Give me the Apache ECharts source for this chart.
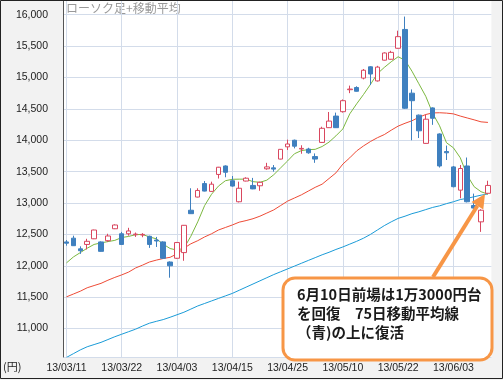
<!DOCTYPE html>
<html><head><meta charset="utf-8">
<script src="https://cdn.jsdelivr.net/npm/echarts@6/dist/echarts.min.js"></script>
<style>html,body{margin:0;padding:0;background:#f2f2f2}#c{width:503px;height:380px}</style>
</head><body><div id="c"></div>
<script>
const dates = ['13/03/11','13/03/12','13/03/13','13/03/14','13/03/15','13/03/18','13/03/19','13/03/21','13/03/22','13/03/25','13/03/26','13/03/27','13/03/28','13/03/29',
'13/04/01','13/04/02','13/04/03','13/04/04','13/04/05','13/04/08','13/04/09','13/04/10','13/04/11','13/04/12','13/04/15','13/04/16','13/04/17','13/04/18','13/04/19','13/04/22','13/04/23','13/04/24','13/04/25','13/04/26','13/04/30',
'13/05/01','13/05/02','13/05/07','13/05/08','13/05/09','13/05/10','13/05/13','13/05/14','13/05/15','13/05/16','13/05/17','13/05/20','13/05/21','13/05/22','13/05/23','13/05/24','13/05/27','13/05/28','13/05/29','13/05/30','13/05/31',
'13/06/03','13/06/04','13/06/05','13/06/06','13/06/07','13/06/10'];
const opens  = [12380,12440,12270,12340,12430,12380,12400,12590,12510,12510,12495,12490,12470,12410,12380,12060,12120,12210,12885,13095,13310,13185,13455,13590,13355,13020,13350,13280,13275,13545,13560,13700,13895,14000,13860,13860,13740,13965,14200,14385,14455,14805,14840,14990,15170,14945,15275,15290,15465,15765,14750,14400,13950,14515,14100,13820,13575,13205,13590,12960,12700,13155];
const closes = [12360,12320,12240,12390,12570,12230,12475,12650,12340,12555,12505,12500,12340,12395,12120,12000,12370,12645,12830,13200,13190,13300,13570,13490,13270,13235,13395,13225,13330,13575,13540,13855,13940,13905,13870,13800,13700,14190,14305,14200,14630,14815,14780,15115,15055,15165,15390,15400,15650,14510,14630,14150,14335,14350,13590,13800,13260,13550,13020,12920,12885,13280];
const lows   = [12320,12315,12190,12260,12425,12225,12380,12585,12335,12480,12460,12455,12285,12300,12110,11810,12110,12080,12825,13090,13185,13180,13390,13410,13260,13010,13345,13220,13195,13530,13500,13695,13845,13870,13785,13785,13640,13960,14195,14195,14440,14750,14775,14970,14880,14935,15270,15285,15460,14500,14000,14035,13945,14245,13565,13685,13250,13075,13010,12900,12540,13150];
const highs  = [12410,12480,12310,12430,12575,12390,12510,12660,12540,12605,12530,12520,12480,12460,12390,12070,12380,12650,13235,13235,13350,13340,13575,13600,13430,13340,13410,13400,13340,13640,13605,13860,14010,14010,13920,13880,13790,14215,14450,14440,14650,14870,14860,15135,15180,15185,15400,15425,15745,15970,14810,14410,14410,14525,14110,13915,13590,13605,13725,13150,12900,13355];
const ma5  = [12046,12140,12210,12280,12340,12365,12385,12405,12450,12468,12495,12500,12460,12430,12345,12275,12250,12280,12470,12700,12960,13140,13270,13355,13378,13380,13380,13340,13330,13364,13450,13560,13670,13785,13835,13850,13855,13900,13970,14070,14180,14420,14580,14730,14890,15060,15160,15250,15330,15275,15100,14900,14700,14430,14230,13960,13880,13720,13440,13260,13180,13140];
const ma25 = [11505,11550,11595,11650,11685,11720,11770,11815,11855,11900,11965,12010,12060,12090,12116,12135,12190,12280,12350,12400,12460,12510,12570,12610,12650,12695,12720,12750,12790,12840,12890,12960,13030,13080,13130,13190,13250,13300,13390,13480,13620,13720,13830,13910,13980,14040,14090,14160,14225,14270,14310,14365,14410,14435,14438,14432,14420,14385,14355,14325,14293,14284];
const ma75 = [10540,10600,10660,10710,10745,10780,10825,10870,10910,10950,10990,11040,11085,11115,11143,11180,11220,11260,11310,11360,11400,11440,11480,11520,11560,11610,11660,11710,11760,11810,11860,11905,11950,11995,12040,12085,12130,12175,12215,12260,12300,12345,12390,12440,12500,12570,12640,12700,12755,12790,12830,12860,12895,12930,12955,12990,13020,13055,13075,13100,13125,13145];
const yMin = 10547, yMax = 16234;

const candles = opens.map((o, i) => [o, closes[i], lows[i], highs[i]]);
const chart = echarts.init(document.getElementById('c'), null, {renderer: 'canvas'});
chart.setOption({
  animation: false,
  backgroundColor: '#f2f2f2',
  grid: {left: 63, top: 0, width: 428.4, height: 357, show: true, backgroundColor: '#ffffff', borderWidth: 0},
  xAxis: {
    type: 'category', data: dates, boundaryGap: true,
    axisLine: {show: false}, axisTick: {show: false},
    axisLabel: {interval: 7, color: '#222', fontSize: 10.5, fontFamily: 'Liberation Sans', margin: 6},
    splitLine: {show: true, interval: 7, alignWithLabel: true, lineStyle: {color: '#d3dcea', width: 1}}
  },
  yAxis: {
    type: 'value', min: yMin, max: yMax, minInterval: 500, maxInterval: 500,
    axisLine: {show: true, lineStyle: {color: '#555', width: 1}}, axisTick: {show: false},
    axisLabel: {color: '#222', fontSize: 10.5, fontFamily: 'Liberation Sans', margin: 15,
      showMinLabel: true, showMaxLabel: true,
      formatter: v => (v % 500 === 0 ? v.toLocaleString('en-US') : '')},
    splitLine: {show: true, lineStyle: {color: '#d3dcea', width: 1}}
  },
  series: [
    {type: 'line', data: ma75, symbol: 'none', lineStyle: {color: '#1a9bd7', width: 1}, z: 2},
    {type: 'line', data: ma25, symbol: 'none', lineStyle: {color: '#ee4b36', width: 1}, z: 2},
    {type: 'line', data: ma5, symbol: 'none', lineStyle: {color: '#7cb840', width: 1}, z: 2},
    {type: 'candlestick', data: candles, barWidth: 5, z: 3,
      itemStyle: {color: '#ffffff', color0: '#3f80bf', borderColor: '#d9475f', borderColor0: '#3f80bf', borderWidth: 1}}
  ],
  graphic: [
    {type: 'text', left: 66, top: 2, style: {text: 'ローソク足+移動平均', fill: '#999', font: '12px "Noto Sans CJK JP"'}},
    {type: 'text', left: 3, top: 361, style: {text: '(円)', fill: '#222', font: '11px "Noto Sans CJK JP"'}},
    {type: 'line', shape: {x1: 433, y1: 277, x2: 477.4, y2: 205.8}, style: {stroke: '#f79646', lineWidth: 4}, z: 100},
    {type: 'polygon', shape: {points: [[485, 194], [483.3, 209.6], [471.5, 202.0]]}, style: {fill: '#f79646'}, z: 100},
    {type: 'rect', shape: {x: 283, y: 278, width: 209, height: 82, r: 12}, style: {fill: '#fff', stroke: '#f79646', lineWidth: 3}, z: 100},
    {type: 'text', x: 297, y: 285, z: 101, style: {text: '6月10日前場は1万3000円台\nを回復　75日移動平均線\n（青)の上に復活', fill: '#1a1a1a', font: 'bold 14.5px "Noto Sans CJK JP"', lineHeight: 19}},
    {type: 'rect', shape: {x: 0.5, y: 0.5, width: 502, height: 378}, style: {fill: 'none', stroke: '#222', lineWidth: 1}, z: 200}
  ]
});
</script></body></html>
